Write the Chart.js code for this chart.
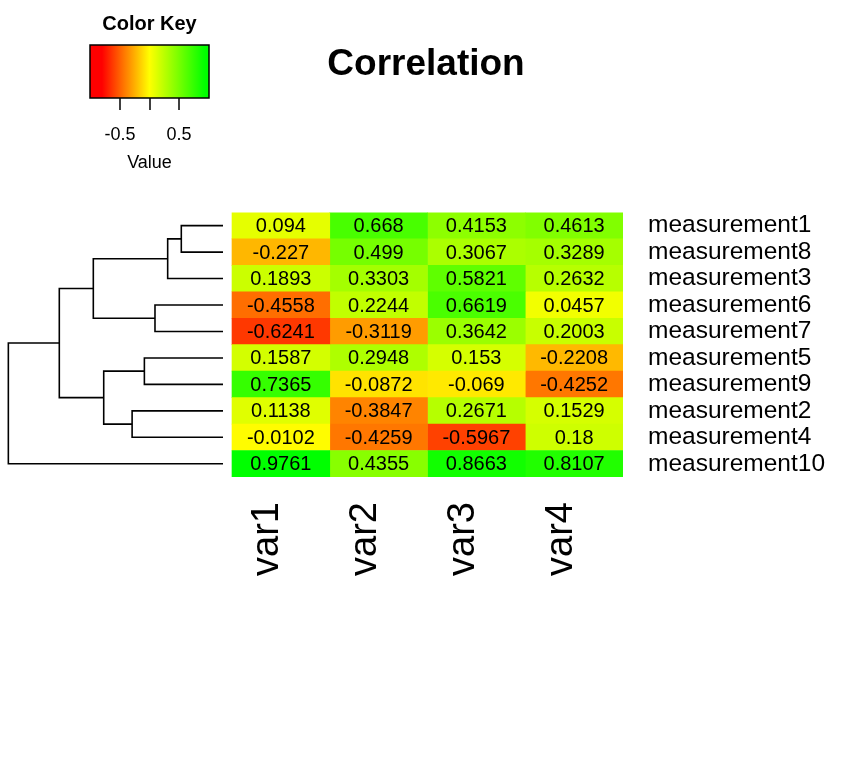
<!DOCTYPE html>
<html>
<head>
<meta charset="utf-8">
<title>Correlation</title>
<script src="https://cdn.jsdelivr.net/npm/chart.js@4.4.1/dist/chart.umd.min.js"></script>
<style>
  html, body { margin: 0; padding: 0; background: #fff; }
  #wrap { width: 850px; height: 779px; position: relative; }
</style>
</head>
<body>
<div id="wrap"><canvas id="heatChart"></canvas></div>
<script>
// rows in the order they are shown (top to bottom), after clustering
const rowLabels = ['measurement1', 'measurement8', 'measurement3', 'measurement6', 'measurement7',
                   'measurement5', 'measurement9', 'measurement2', 'measurement4', 'measurement10'];
const colLabels = ['var1', 'var2', 'var3', 'var4'];

const var1Values = [0.094, -0.227, 0.1893, -0.4558, -0.6241, 0.1587, 0.7365, 0.1138, -0.0102, 0.9761];
const var2Values = [0.668, 0.499, 0.3303, 0.2244, -0.3119, 0.2948, -0.0872, -0.3847, -0.4259, 0.4355];
const var3Values = [0.4153, 0.3067, 0.5821, 0.6619, 0.3642, 0.153, -0.069, 0.2671, -0.5967, 0.8663];
const var4Values = [0.4613, 0.3289, 0.2632, 0.0457, 0.2003, -0.2208, -0.4252, 0.1529, 0.18, 0.8107];

// row dendrogram, hclust style: negative = leaf row (1-based), positive = earlier merge
const mergeLeft   = [-1, 1, -4, -6, -8, 4, 2, 7, 8];
const mergeRight  = [-2, -3, -5, -7, -9, 5, 3, 6, -10];
const mergeHeight = [0.401, 0.532, 0.654, 0.756, 0.874, 1.147, 1.247, 1.574, 2.064];

// colour key
const keyMin = -1;
const keyMax = 1;
const keyTicks = [-0.5, 0, 0.5];
const keyTickLabels = ['-0.5', '', '0.5'];

const FONT = 'Liberation Sans, Arial, Helvetica, sans-serif';
Chart.defaults.font.family = FONT;
Chart.defaults.color = '#000';

// red -> yellow -> green (red side saturates a bit before -1)
function cellColor(v) {
  let r, g;
  if (v < 0) { r = 255; g = Math.round(255 * Math.max(0, 1 + v / 0.8)); }
  else { r = Math.round(255 * Math.max(0, 1 - v / 0.93)); g = 255; }
  return 'rgb(' + r + ',' + g + ',0)';
}

const columns = [var1Values, var2Values, var3Values, var4Values];
const datasets = columns.map((vals, c) => ({
  type: 'bar',
  indexAxis: 'y',
  xAxisID: 'x',
  yAxisID: 'y',
  data: vals.map((v, r) => ({ y: r, x: [c, c + 1], v: v })),
  backgroundColor: vals.map(cellColor),
  borderWidth: 0,
  grouped: false,
  barPercentage: 1,
  categoryPercentage: 1
}));

// dendrogram brackets
const nodeY = [];
function childPos(id) {
  if (id < 0) return { h: 0, y: -id - 1 };
  return { h: mergeHeight[id - 1], y: nodeY[id - 1] };
}
mergeLeft.forEach((a, k) => {
  const p = childPos(a);
  const q = childPos(mergeRight[k]);
  const H = mergeHeight[k];
  nodeY[k] = (p.y + q.y) / 2;
  datasets.push({
    type: 'scatter',
    xAxisID: 'xd',
    yAxisID: 'y',
    showLine: true,
    data: [{ x: p.h, y: p.y }, { x: H, y: p.y }, { x: H, y: q.y }, { x: q.h, y: q.y }],
    borderColor: '#000',
    borderWidth: 1.6,
    pointRadius: 0,
    tension: 0,
    fill: false
  });
});

// numbers inside the cells
const cellValuesPlugin = {
  id: 'cellValues',
  afterDatasetsDraw(chart) {
    const ctx = chart.ctx;
    ctx.save();
    ctx.fillStyle = '#000';
    ctx.font = '20px ' + FONT;
    ctx.textAlign = 'center';
    ctx.textBaseline = 'middle';
    chart.data.datasets.forEach((ds, i) => {
      if (ds.type !== 'bar') return;
      chart.getDatasetMeta(i).data.forEach((el, j) => {
        ctx.fillText(String(ds.data[j].v), (el.x + el.base) / 2, el.y + 1);
      });
    });
    ctx.restore();
  }
};

// colour key in the top left corner
const colorKeyPlugin = {
  id: 'colorKey',
  afterDraw(chart) {
    const ctx = chart.ctx;
    const left = 90, top = 45, w = 119, h = 53;
    const grad = ctx.createLinearGradient(left, 0, left + w, 0);
    for (let s = 0; s <= 40; s++) {
      const v = keyMin + (keyMax - keyMin) * s / 40;
      grad.addColorStop(s / 40, cellColor(v));
    }
    ctx.save();
    ctx.fillStyle = grad;
    ctx.fillRect(left, top, w, h);
    ctx.strokeStyle = '#000';
    ctx.lineWidth = 1.5;
    ctx.strokeRect(left, top, w, h);

    ctx.fillStyle = '#000';
    ctx.textAlign = 'center';
    ctx.textBaseline = 'middle';
    ctx.font = '18px ' + FONT;
    keyTicks.forEach((t, i) => {
      const x = Math.round(left + (t - keyMin) / (keyMax - keyMin) * w);
      ctx.beginPath();
      ctx.moveTo(x, top + h);
      ctx.lineTo(x, top + h + 12);
      ctx.stroke();
      if (keyTickLabels[i]) ctx.fillText(keyTickLabels[i], x, 135);
    });
    ctx.fillText('Value', left + w / 2, 163);
    ctx.font = 'bold 20px ' + FONT;
    ctx.fillText('Color Key', left + w / 2, 24);
    ctx.restore();
  }
};

new Chart(document.getElementById('heatChart'), {
  type: 'bar',
  data: { datasets: datasets },
  options: {
    responsive: true,
    maintainAspectRatio: false,
    animation: false,
    layout: { padding: { left: 2, right: 0, top: 0, bottom: 0 } },
    plugins: {
      legend: { display: false },
      tooltip: { enabled: false },
      title: {
        display: true,
        text: 'Correlation',
        color: '#000',
        font: { size: 37, weight: 'bold' },
        padding: { top: 43, bottom: 125 }
      }
    },
    scales: {
      x: {
        type: 'linear',
        position: 'bottom',
        offset: false,
        min: -2.353,
        max: 4,
        grid: { display: false, drawTicks: false, offset: false },
        border: { display: false },
        afterBuildTicks: (s) => { s.ticks = colLabels.map((_, i) => ({ value: i + 0.5 })); },
        afterFit: (s) => { s.height = 302; },
        ticks: {
          autoSkip: false,
          minRotation: 90,
          maxRotation: 90,
          padding: 25,
          labelOffset: -13,
          font: { size: 38 },
          callback: (v, i) => colLabels[i]
        }
      },
      xd: {
        type: 'linear',
        axis: 'x',
        display: false,
        offset: false,
        reverse: true,
        min: -3.846,
        max: 2.125
      },
      y: {
        type: 'linear',
        position: 'right',
        offset: false,
        reverse: true,
        min: -0.5,
        max: 9.5,
        grid: { display: false, drawTicks: false, offset: false },
        border: { display: false },
        afterBuildTicks: (s) => { s.ticks = rowLabels.map((_, i) => ({ value: i })); },
        afterFit: (s) => { s.width = 227; },
        ticks: {
          autoSkip: false,
          padding: 25,
          font: { size: 24.5, lineHeight: 1 },
          callback: (v, i) => rowLabels[i]
        }
      }
    }
  },
  plugins: [cellValuesPlugin, colorKeyPlugin]
});
</script>
</body>
</html>
